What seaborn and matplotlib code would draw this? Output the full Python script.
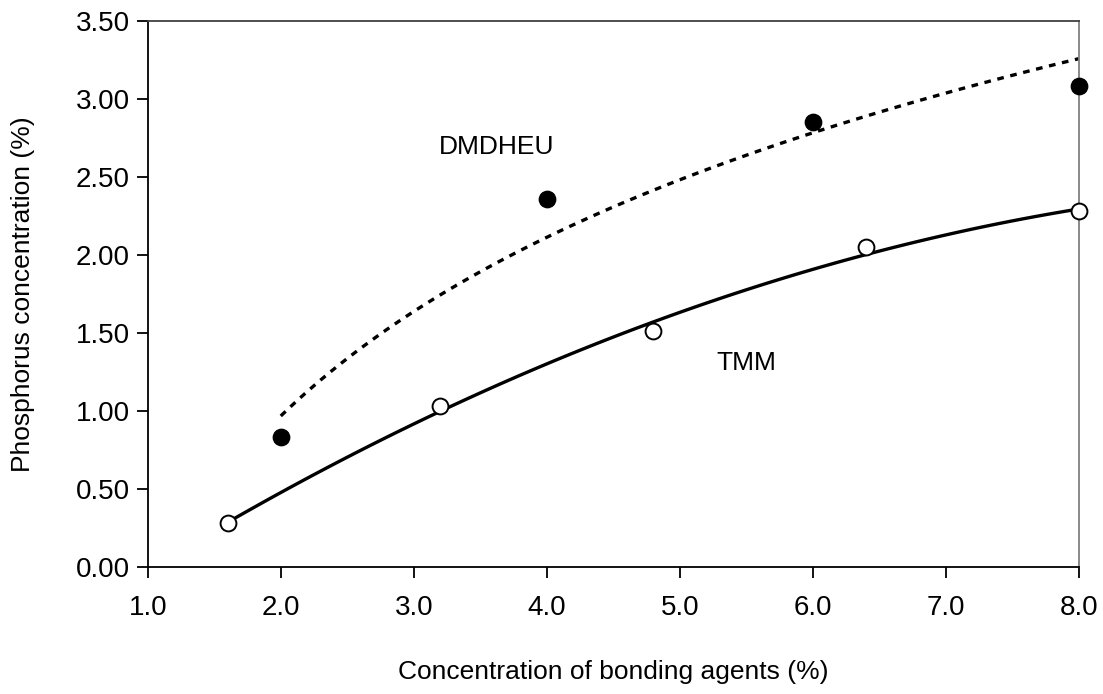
import seaborn as sns
import matplotlib.pyplot as plt
import matplotlib.ticker as mticker
import pandas as pd

# data
dmdheu_x = [2.0, 4.0, 6.0, 8.0]
dmdheu_y = [0.83, 2.36, 2.85, 3.08]
tmm_x = [1.6, 3.2, 4.8, 6.4, 8.0]
tmm_y = [0.28, 1.03, 1.51, 2.05, 2.28]

dm = pd.DataFrame({'x': dmdheu_x, 'y': dmdheu_y})
tm = pd.DataFrame({'x': tmm_x, 'y': tmm_y})

sns.set_style('ticks')
plt.rcParams['font.family'] = ['Liberation Sans', 'DejaVu Sans']
plt.rcParams['text.color'] = 'black'
plt.rcParams['axes.labelcolor'] = 'black'
plt.rcParams['xtick.color'] = 'black'
plt.rcParams['ytick.color'] = 'black'

fig = plt.figure(figsize=(11.03, 6.94), dpi=100)
ax = fig.add_axes([0.134, 0.183, 0.844, 0.787])

# trend lines (Excel style: log fit for DMDHEU, 2nd order poly for TMM)
sns.regplot(data=dm, x='x', y='y', logx=True, ci=None, scatter=False, ax=ax,
            line_kws={'color': 'black', 'lw': 2.4, 'ls': (0, (2, 2))})
sns.regplot(data=tm, x='x', y='y', order=2, ci=None, scatter=False, ax=ax,
            line_kws={'color': 'black', 'lw': 2.4})

# points
sns.scatterplot(data=dm, x='x', y='y', ax=ax, s=140, color='black',
                edgecolor='black', zorder=5, clip_on=False)
sns.scatterplot(data=tm, x='x', y='y', ax=ax, s=130, facecolor='white',
                edgecolor='black', linewidth=1.4, zorder=5, clip_on=False)

ax.text(3.62, 2.69, 'DMDHEU', fontsize=19, ha='center', va='center')
ax.text(5.5, 1.31, 'TMM', fontsize=19, ha='center', va='center')

ax.set_xlim(1.0, 8.0)
ax.set_ylim(0.0, 3.5)
ax.set_xticks([1, 2, 3, 4, 5, 6, 7, 8])
ax.set_yticks([0, 0.5, 1.0, 1.5, 2.0, 2.5, 3.0, 3.5])
ax.xaxis.set_major_formatter(mticker.FormatStrFormatter('%.1f'))
ax.yaxis.set_major_formatter(mticker.FormatStrFormatter('%.2f'))
ax.tick_params(axis='both', labelsize=20, length=8, width=1.3, direction='out',
               pad=5)
ax.tick_params(axis='x', pad=12)

ax.set_xlabel('Concentration of bonding agents (%)', fontsize=19)
ax.set_ylabel('Phosphorus concentration (%)', fontsize=19)
ax.xaxis.set_label_coords(0.5, -0.192)
ax.xaxis.label.set_va('center')
ax.yaxis.set_label_coords(-0.134, 0.5)
ax.yaxis.label.set_va('center')

ax.spines['left'].set_color('black')
ax.spines['bottom'].set_color('black')
ax.spines['top'].set_color('#404040')
ax.spines['right'].set_color('#808080')
for s in ax.spines.values():
    s.set_linewidth(1.3)

fig.savefig('out.png', dpi=100)
